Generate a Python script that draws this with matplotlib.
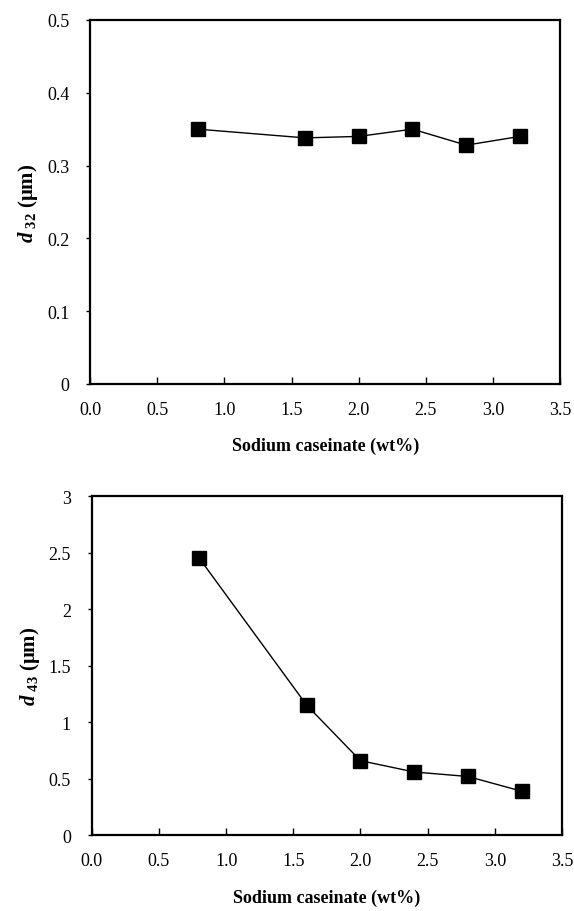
import matplotlib
matplotlib.use("Agg")
import matplotlib.pyplot as plt
from matplotlib.ticker import FixedLocator, FuncFormatter

plt.rcParams['font.family'] = ['Liberation Serif', 'DejaVu Serif']
plt.rcParams['mathtext.fontset'] = 'custom'
plt.rcParams['mathtext.rm'] = 'Liberation Serif'
plt.rcParams['mathtext.it'] = 'Liberation Serif:italic'
plt.rcParams['mathtext.bf'] = 'Liberation Serif:bold'
plt.rcParams['mathtext.bfit'] = 'Liberation Serif:italic:bold'

caseinate = [0.8, 1.6, 2.0, 2.4, 2.8, 3.2]
d32 = [0.35, 0.338, 0.34, 0.35, 0.328, 0.34]
d43 = [2.45, 1.15, 0.66, 0.56, 0.52, 0.39]

x_ticks = [0.0, 0.5, 1.0, 1.5, 2.0, 2.5, 3.0, 3.5]
y32_ticks = [0, 0.1, 0.2, 0.3, 0.4, 0.5]
y43_ticks = [0, 0.5, 1, 1.5, 2, 2.5, 3]

fig = plt.figure(figsize=(5.74, 9.12), dpi=100)
ax1 = fig.add_axes([0.157, 0.578, 0.819, 0.399])
ax2 = fig.add_axes([0.160, 0.083, 0.819, 0.372])

def style(ax, yticks, yfmt, ylabel):
    ax.set_xlim(0, 3.5)
    ax.set_ylim(yticks[0], yticks[-1])
    ax.xaxis.set_major_locator(FixedLocator(x_ticks))
    ax.yaxis.set_major_locator(FixedLocator(yticks))
    ax.xaxis.set_major_formatter(FuncFormatter(lambda v, p: f"{v:.1f}"))
    ax.yaxis.set_major_formatter(FuncFormatter(yfmt))
    ax.tick_params(axis='x', direction='in', length=5, width=1, labelsize=13, pad=12)
    ax.tick_params(axis='y', direction='out', length=3, width=1, labelsize=13, pad=12)
    for s in ax.spines.values():
        s.set_linewidth(1.6)
    ax.set_xlabel('Sodium caseinate (wt%)', fontsize=13, fontweight='bold', labelpad=14)
    ax.set_ylabel(ylabel, fontsize=15, fontweight='bold', labelpad=5)

ax1.plot(caseinate, d32, color='black', linewidth=1, marker='s', markersize=10)
style(ax1, y32_ticks, lambda v, p: '0' if v == 0 else f"{v:.1f}",
      r'$\mathbfit{d}\;_{\mathbf{32}}$ (μm)')

ax2.plot(caseinate, d43, color='black', linewidth=1, marker='s', markersize=10)
style(ax2, y43_ticks, lambda v, p: f"{v:g}",
      r'$\mathbfit{d}\;_{\mathbf{43}}$ (μm)')

fig.savefig('out.png', dpi=100)
